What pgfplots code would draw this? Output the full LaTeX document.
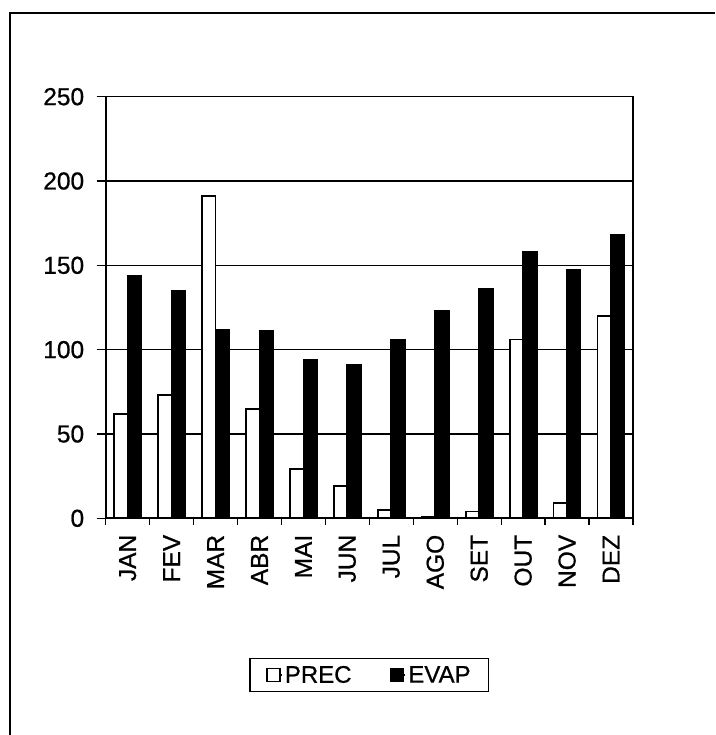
\documentclass[border=0pt]{standalone}
\usepackage{pgfplots}
\pgfplotsset{compat=1.18}
\usepackage{fontspec}
\setmainfont{Liberation Sans}[FakeBold=0.8]

% Monthly precipitation and evaporation (mm)
\pgfplotstableread{
idx prec evap
0   62  144
1   73  135
2   191 112
3   65  111
4   29  94
5   19  91
6   5   106
7   1   123
8   4   136
9   106 158
10  9   147
11  120 168
}\climatable

\begin{document}
\begin{tikzpicture}[x=1pt,y=1pt]
\useasboundingbox (0,0) rectangle (715,735);
% outer chart frame
\draw[line width=1.4pt] (10,0) -- (10,722) -- (715,722);
\begin{axis}[
  at={(105.7pt,216.7pt)}, anchor=south west,
  scale only axis,
  width=527.3pt, height=421.6pt,
  xmin=-0.5, xmax=11.5,
  ymin=0, ymax=250,
  ytick={0,50,...,250},
  xtick={0,...,11},
  xticklabels={JAN,FEV,MAR,ABR,MAI,JUN,JUL,AGO,SET,OUT,NOV,DEZ},
  minor xtick={-0.5,0.5,...,11.5},
  major x tick style={draw=none},
  minor tick length=7pt,
  major tick length=9pt,
  tick align=outside,
  xtick pos=bottom, ytick pos=left,
  tick style={black, line width=1.3pt},
  ymajorgrids,
  grid style={black, line width=1.3pt},
  axis line style={line width=1.6pt},
  /pgf/number format/assume math mode=true,
  ticklabel style={font=\fontsize{24.5}{28}\selectfont},
  yticklabel style={xshift=-9pt},
  xticklabel style={rotate=90, anchor=east, xshift=-4pt},
  ybar=0pt, bar width=13.5pt,
  legend style={at={(0.5,-0.372)}, anchor=center,
    draw=black, line width=1.4pt,
    font=\fontsize{24}{27}\selectfont,
    legend columns=2,
    inner xsep=16pt, inner ysep=4.5pt,
    nodes={inner xsep=2pt, inner ysep=3pt},
    /tikz/every even column/.append style={column sep=36pt}},
  legend cell align=left,
  legend image code/.code={%
    \path (0pt,0pt) -- (15pt,0pt);
    \draw[#1, line width=1.5pt] (0pt,-6.5pt) rectangle (13pt,6.5pt);},
]
\addplot[fill=white, draw=black, line width=1.8pt] table[x=idx,y=prec] {\climatable};
\addplot[fill=black, draw=black, line width=1.8pt] table[x=idx,y=evap] {\climatable};
\legend{PREC,EVAP}
\end{axis}
\end{tikzpicture}
\end{document}
